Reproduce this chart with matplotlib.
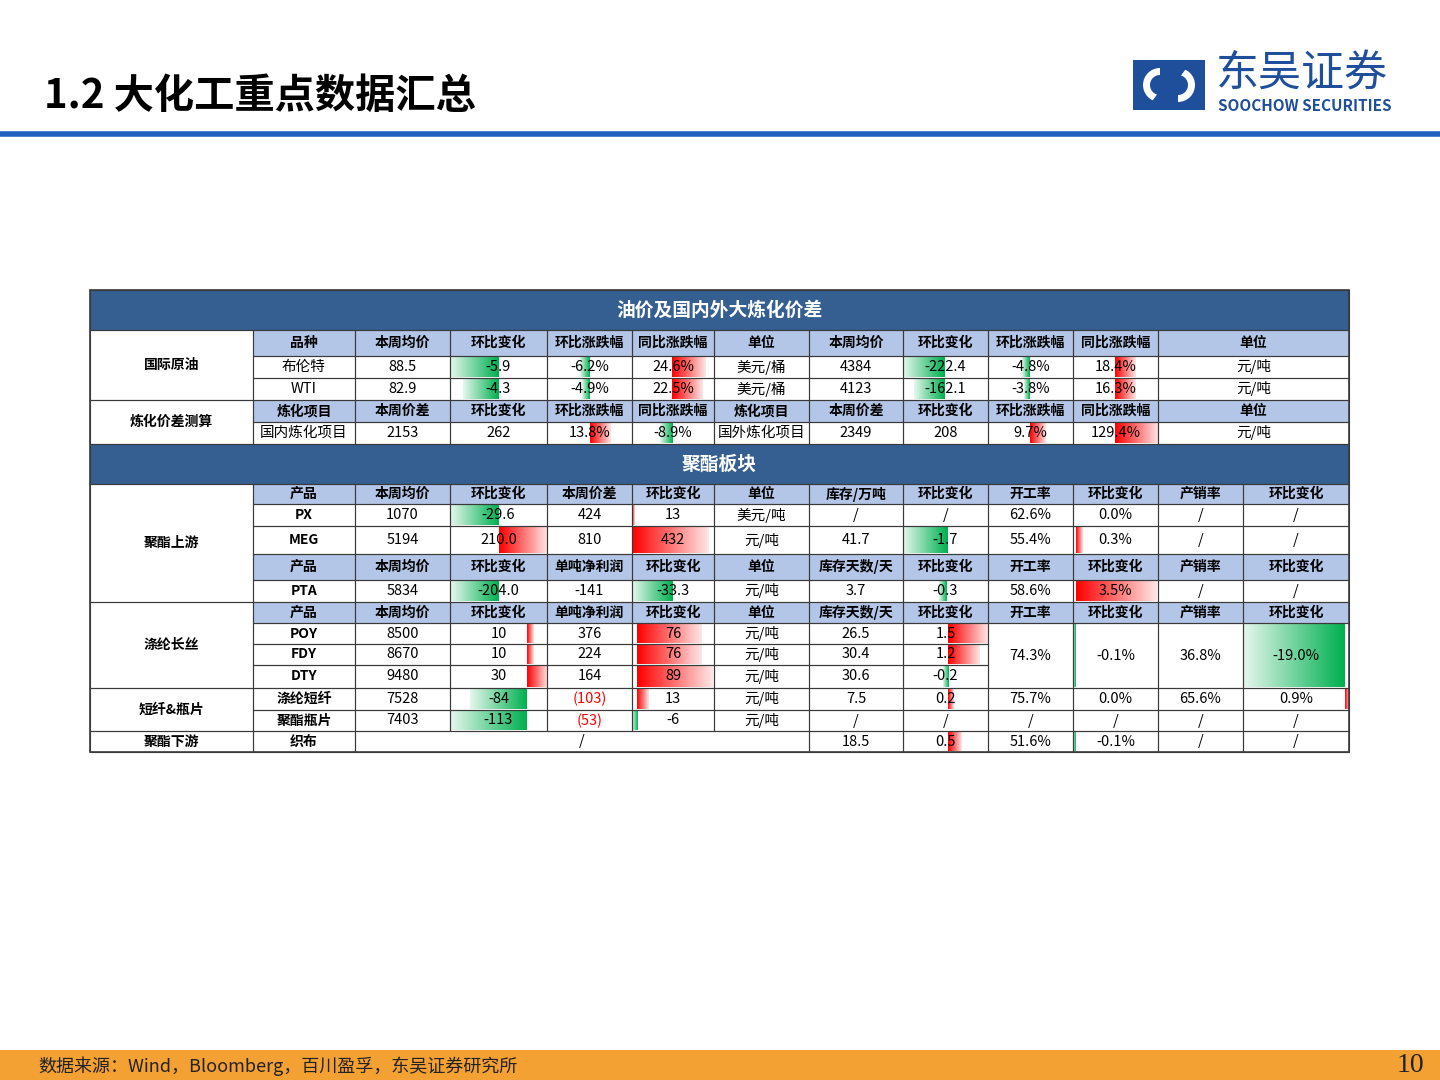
import numpy as np
import matplotlib
matplotlib.use("Agg")
import matplotlib.pyplot as plt
from matplotlib.patches import Rectangle, Polygon, Wedge

plt.rcParams['font.family'] = ['Noto Sans CJK SC', 'DejaVu Sans']

# ---- table geometry (page pixel grid) ----
col_x = [90, 253, 355, 450, 547, 632, 714, 809, 903, 988, 1073, 1158, 1243, 1349]
row_y = [290, 330, 356, 378, 400, 422, 444, 484, 504, 526, 554, 580, 602, 623, 644, 665, 688, 710, 731, 752]

# ---- data ----
hdr_oil = ['品种', '本周均价', '环比变化', '环比涨跌幅', '同比涨跌幅', '单位', '本周均价', '环比变化', '环比涨跌幅', '同比涨跌幅', '单位']
brent = ['布伦特', '88.5', '-5.9', '-6.2%', '24.6%', '美元/桶', '4384', '-222.4', '-4.8%', '18.4%', '元/吨']
wti = ['WTI', '82.9', '-4.3', '-4.9%', '22.5%', '美元/桶', '4123', '-162.1', '-3.8%', '16.3%', '元/吨']
hdr_ref = ['炼化项目', '本周价差', '环比变化', '环比涨跌幅', '同比涨跌幅', '炼化项目', '本周价差', '环比变化', '环比涨跌幅', '同比涨跌幅', '单位']
refinery = ['国内炼化项目', '2153', '262', '13.8%', '-8.9%', '国外炼化项目', '2349', '208', '9.7%', '129.4%', '元/吨']

hdr_up = ['产品', '本周均价', '环比变化', '本周价差', '环比变化', '单位', '库存/万吨', '环比变化', '开工率', '环比变化', '产销率', '环比变化']
px = ['PX', '1070', '-29.6', '424', '13', '美元/吨', '/', '/', '62.6%', '0.0%', '/', '/']
meg = ['MEG', '5194', '210.0', '810', '432', '元/吨', '41.7', '-1.7', '55.4%', '0.3%', '/', '/']
hdr_pta = ['产品', '本周均价', '环比变化', '单吨净利润', '环比变化', '单位', '库存天数/天', '环比变化', '开工率', '环比变化', '产销率', '环比变化']
pta = ['PTA', '5834', '-204.0', '-141', '-33.3', '元/吨', '3.7', '-0.3', '58.6%', '3.5%', '/', '/']
poy = ['POY', '8500', '10', '376', '76', '元/吨', '26.5', '1.5']
fdy = ['FDY', '8670', '10', '224', '76', '元/吨', '30.4', '1.2']
dty = ['DTY', '9480', '30', '164', '89', '元/吨', '30.6', '-0.2']
filament_merged = ['74.3%', '-0.1%', '36.8%', '-19.0%']
staple = ['涤纶短纤', '7528', '-84', '(103)', '13', '元/吨', '7.5', '0.2', '75.7%', '0.0%', '65.6%', '0.9%']
bottle = ['聚酯瓶片', '7403', '-113', '(53)', '-6', '元/吨', '/', '/', '/', '/', '/', '/']
downstream = ['织布', '/', '18.5', '0.5', '51.6%', '-0.1%', '/', '/']

categories = [('国际原油', 1, 3), ('炼化价差测算', 4, 5), ('聚酯上游', 7, 11),
              ('涤纶长丝', 12, 15), ('短纤&瓶片', 16, 17), ('聚酯下游', 18, 18)]
bold_names = {'PX', 'MEG', 'PTA', 'POY', 'FDY', 'DTY', '涤纶短纤', '聚酯瓶片', '织布'}

# data bar groups: (axis position in cell, cell fraction used by the largest value, floor)
bar_groups = {
    'oil_chg': (0.5, 0.5, 0), 'oil_pct': (0.5, 0.24, 0), 'oil_yoy': (0.49, 0.41, 0),
    'r_chg': (0.49, 0.49, 0), 'r_pct': (0.49, 0.18, 0), 'r_yoy': (0.49, 0.51, 0.2),
    'px_chg': (0.5, 0.5, 0), 'up_chg': (0.5, 0.5, 0), 'up_spread': (0.0, 0.93, 0),
    'pta_profit': (0.49, 0.49, 0), 'up_inv': (0.52, 0.52, 0), 'up_rate': (0.03, 0.95, 0),
    'fil_chg': (0.79, 0.79, 0), 'fil_profit': (0.06, 0.92, 0), 'fil_inv': (0.53, 0.47, 0),
    'fil_rate': (0.03, 0.03, 0), 'fil_sales': (0.96, 0.96, 0),
}
# (row0, row1, col, value, group)
bars = [
    (2, 2, 3, -5.9, 'oil_chg'), (3, 3, 3, -4.3, 'oil_chg'),
    (2, 2, 4, -6.2, 'oil_pct'), (3, 3, 4, -4.9, 'oil_pct'), (5, 5, 4, 13.8, 'oil_pct'),
    (2, 2, 5, 24.6, 'oil_yoy'), (3, 3, 5, 22.5, 'oil_yoy'), (5, 5, 5, -8.9, 'oil_yoy'),
    (2, 2, 8, -222.4, 'r_chg'), (3, 3, 8, -162.1, 'r_chg'),
    (2, 2, 9, -4.8, 'r_pct'), (3, 3, 9, -3.8, 'r_pct'), (5, 5, 9, 9.7, 'r_pct'),
    (2, 2, 10, 18.4, 'r_yoy'), (3, 3, 10, 16.3, 'r_yoy'), (5, 5, 10, 129.4, 'r_yoy'),
    (8, 8, 3, -29.6, 'px_chg'), (9, 9, 3, 210.0, 'up_chg'), (11, 11, 3, -204.0, 'up_chg'),
    (8, 8, 5, 13, 'up_spread'), (9, 9, 5, 432, 'up_spread'),
    (11, 11, 5, -33.3, 'pta_profit'),
    (9, 9, 8, -1.7, 'up_inv'), (11, 11, 8, -0.3, 'up_inv'),
    (9, 9, 10, 0.3, 'up_rate'), (11, 11, 10, 3.5, 'up_rate'),
    (13, 13, 3, 10, 'fil_chg'), (14, 14, 3, 10, 'fil_chg'), (15, 15, 3, 30, 'fil_chg'),
    (16, 16, 3, -84, 'fil_chg'), (17, 17, 3, -113, 'fil_chg'),
    (13, 13, 5, 76, 'fil_profit'), (14, 14, 5, 76, 'fil_profit'), (15, 15, 5, 89, 'fil_profit'),
    (16, 16, 5, 13, 'fil_profit'), (17, 17, 5, -6, 'fil_profit'),
    (13, 13, 8, 1.5, 'fil_inv'), (14, 14, 8, 1.2, 'fil_inv'), (15, 15, 8, -0.2, 'fil_inv'),
    (16, 16, 8, 0.2, 'fil_inv'), (18, 18, 8, 0.5, 'fil_inv'),
    (13, 15, 10, -0.1, 'fil_rate'), (18, 18, 10, -0.1, 'fil_rate'),
    (13, 15, 12, -19.0, 'fil_sales'), (16, 16, 12, 0.9, 'fil_sales'),
]

BAND = '#365f91'
HDR = '#b4c6e7'
EDGE = '#3a3a3a'

fig = plt.figure(figsize=(14.4, 10.8), dpi=100)
ax = fig.add_axes([0, 0, 1, 1])
ax.set_xlim(0, 1440)
ax.set_ylim(1080, 0)
ax.axis('off')

cells = []  # (r0, r1, c0, c1, text, kind)


def add_row(r, values, start=1, spans=None, kind='cell'):
    spans = spans or {}
    c = start
    for v in values:
        w = spans.get(c, 1)
        k = kind
        if kind == 'cell' and v in bold_names:
            k = 'bold'
        if kind == 'cell' and v.startswith('('):
            k = 'red'
        cells.append((r, r, c, c + w - 1, v, k))
        c += w


cells.append((0, 0, 0, 12, '油价及国内外大炼化价差', 'band'))
cells.append((6, 6, 0, 12, '聚酯板块', 'band'))
for name, r0, r1 in categories:
    cells.append((r0, r1, 0, 0, name, 'label'))
add_row(1, hdr_oil, spans={11: 2}, kind='hdr')
add_row(2, brent, spans={11: 2})
add_row(3, wti, spans={11: 2})
add_row(4, hdr_ref, spans={11: 2}, kind='hdr')
add_row(5, refinery, spans={11: 2})
add_row(7, hdr_up, kind='hdr')
add_row(8, px)
add_row(9, meg)
add_row(10, hdr_pta, kind='hdr')
add_row(11, pta)
add_row(12, hdr_pta, kind='hdr')
add_row(13, poy)
add_row(14, fdy)
add_row(15, dty)
for i, v in enumerate(filament_merged):
    cells.append((13, 15, 9 + i, 9 + i, v, 'cell'))
add_row(16, staple)
add_row(17, bottle)
add_row(18, downstream, spans={2: 5})

# backgrounds
for r0, r1, c0, c1, t, k in cells:
    x0, x1 = col_x[c0], col_x[c1 + 1]
    y0, y1 = row_y[r0], row_y[r1 + 1]
    fc = {'band': BAND, 'hdr': HDR}.get(k, 'white')
    ax.add_patch(Rectangle((x0, y0), x1 - x0, y1 - y0, facecolor=fc, edgecolor='none', zorder=1))

# data bars with gradient
green = np.array([0, 176, 80]) / 255
red = np.array([255, 0, 0]) / 255
gvmax = {}
for r0, r1, c, v, g in bars:
    gvmax[g] = max(gvmax.get(g, 0), abs(v))
for r0, r1, c, v, g in bars:
    if v == 0:
        continue
    axis_f, max_f, floor = bar_groups[g]
    x0, x1 = col_x[c], col_x[c + 1]
    w = x1 - x0
    y0, y1 = row_y[r0] + 1, row_y[r1 + 1] - 1
    frac = floor + (max_f - floor) * abs(v) / gvmax[g]
    xa = x0 + axis_f * w
    length = frac * w
    base = green if v < 0 else red
    t = np.linspace(0, 1, 64)  # 0 at axis -> 1 far end
    alpha = 1 - 0.9 * t
    col = base[None, :] * alpha[:, None] + (1 - alpha[:, None])
    if v < 0:
        img = col[::-1][None, :, :]
        ext = (xa - length, xa, y1, y0)
    else:
        img = col[None, :, :]
        ext = (xa, xa + length, y1, y0)
    ax.imshow(img, extent=ext, aspect='auto', zorder=2, interpolation='bilinear')

# text
FS = 10.5
for r0, r1, c0, c1, t, k in cells:
    xc = (col_x[c0] + col_x[c1 + 1]) / 2
    yc = (row_y[r0] + row_y[r1 + 1]) / 2
    if k == 'band':
        ax.text(xc, yc, t, ha='center', va='center', color='white', fontsize=13.5, fontweight='bold', zorder=4)
    elif k in ('hdr', 'label', 'bold'):
        ax.text(xc, yc, t, ha='center', va='center', color='black', fontsize=10, fontweight='bold', zorder=4)
    elif k == 'red':
        ax.text(xc, yc, t, ha='center', va='center', color='red', fontsize=FS, zorder=4)
    else:
        ax.text(xc, yc, t, ha='center', va='center', color='black', fontsize=FS, zorder=4)

# grid lines
for r0, r1, c0, c1, t, k in cells:
    x0, x1 = col_x[c0], col_x[c1 + 1]
    y0, y1 = row_y[r0], row_y[r1 + 1]
    ax.add_patch(Rectangle((x0, y0), x1 - x0, y1 - y0, facecolor='none', edgecolor=EDGE, lw=0.8, zorder=3))
ax.add_patch(Rectangle((col_x[0], row_y[0]), col_x[-1] - col_x[0], row_y[-1] - row_y[0],
                       facecolor='none', edgecolor=EDGE, lw=1.2, zorder=3))

# page header
ax.text(44, 96, '1.2 大化工重点数据汇总', ha='left', va='center', fontsize=29, fontweight='bold', color='black')
ax.plot([0, 1440], [134, 134], color='#1f5fbf', lw=4)
# logo
ax.add_patch(Polygon([(1133, 60), (1205, 60), (1205, 110), (1133, 110)], closed=True, facecolor='#1f4e9b'))
ax.add_patch(Wedge((1160, 85), 17, 90, 270, width=7, facecolor='white'))
ax.add_patch(Wedge((1178, 85), 17, 270, 90, width=7, facecolor='white'))
ax.add_patch(Polygon([(1150, 104), (1160, 104), (1188, 66), (1178, 66)], closed=True, facecolor='#1f4e9b'))
ax.text(1216, 74, '东吴证券', ha='left', va='center', fontsize=31, color='#1f4e9b')
ax.text(1218, 106, 'SOOCHOW SECURITIES', ha='left', va='center', fontsize=11, fontweight='bold', color='#1f4e9b')

# footer
ax.add_patch(Rectangle((0, 1050), 1440, 30, facecolor='#f4a133', edgecolor='none'))
ax.text(38, 1066, '数据来源：Wind，Bloomberg，百川盈孚，东吴证券研究所', ha='left', va='center',
        fontsize=13, style='italic', color='#222222')
ax.text(1424, 1066, '10', ha='right', va='center', fontsize=20, family='Liberation Serif', color='#222222')

fig.savefig('out.png', dpi=100)
